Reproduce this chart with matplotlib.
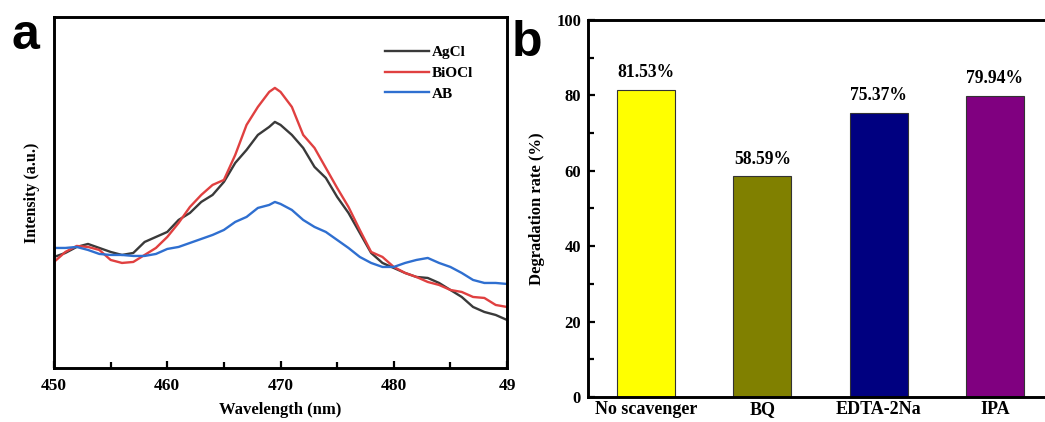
# coding: utf-8
"""Dva panely: PL spektra (a) a míra degradace se scavengery (b)."""

import matplotlib.pyplot as plt
from matplotlib.ticker import MultipleLocator

plt.rcParams["font.family"] = ["Liberation Serif", "DejaVu Serif"]
plt.rcParams["font.weight"] = "bold"
plt.rcParams["axes.labelweight"] = "bold"

# --- data panel a (intenzita v libovolných jednotkách)
wl = [450, 451, 452, 453, 454, 455, 456, 457, 458, 459, 460, 461, 462, 463, 464,
      465, 466, 467, 468, 469, 469.5, 470, 471, 472, 473, 474, 475, 476, 477,
      478, 479, 480, 481, 482, 483, 484, 485, 486, 487, 488, 489, 490]
agcl = [111, 115, 121, 124, 120, 116, 113, 115, 126, 131, 136, 148, 155, 166, 173,
        186, 205, 218, 233, 241, 246, 243, 233, 220, 201, 190, 171, 155, 135,
        115, 105, 100, 95, 91, 90, 85, 78, 71, 61, 56, 53, 48]
biocl = [106, 116, 122, 121, 118, 108, 105, 106, 113, 120, 131, 145, 161, 173, 183,
         188, 213, 243, 261, 276, 280, 276, 261, 233, 220, 200, 180, 161, 138,
         116, 111, 101, 95, 91, 86, 83, 78, 76, 71, 70, 63, 61]
ab = [120, 120, 121, 118, 114, 113, 113, 112, 112, 114, 119, 121, 125, 129, 133,
      138, 146, 151, 160, 163, 166, 164, 158, 148, 141, 136, 128, 120, 111,
      105, 101, 101, 105, 108, 110, 105, 101, 95, 88, 85, 85, 84]
wl_ticks = [450, 460, 470, 480, 490]
wl_labels = ["450", "460", "470", "480", "49"]

# --- data panel b
scavengers = ["No scavenger", "BQ", "EDTA-2Na", "IPA"]
rates = [81.53, 58.59, 75.37, 79.94]
bar_colors = ["#ffff00", "#808000", "#000080", "#800080"]

fig = plt.figure(figsize=(10.45, 4.22), dpi=100)

# ------------------------------------------------ panel a
ax1 = fig.add_axes([0.0517, 0.128, 0.4335, 0.832])
ax1.plot(wl, agcl, color="#3a3a3a", lw=1.7, label="AgCl")
ax1.plot(wl, biocl, color="#e04040", lw=1.7, label="BiOCl")
ax1.plot(wl, ab, color="#2f6fd0", lw=1.7, label="AB")
ax1.set_xlim(450, 490)
ax1.set_ylim(0, 351)
ax1.set_xticks(wl_ticks)
ax1.set_xticklabels(wl_labels)
ax1.xaxis.set_minor_locator(MultipleLocator(5))
ax1.set_yticks([])
ax1.tick_params(axis="x", which="both", direction="in", top=False,
                width=1.6, labelsize=12.5, pad=7)
ax1.tick_params(axis="x", which="major", length=5)
ax1.tick_params(axis="x", which="minor", length=4)
for s in ax1.spines.values():
    s.set_linewidth(2.1)
ax1.set_xlabel("Wavelength (nm)", fontsize=12, labelpad=6)
ax1.set_ylabel("Intensity (a.u.)", fontsize=11.5, labelpad=10)
ax1.legend(loc="upper right", bbox_to_anchor=(0.955, 0.957), frameon=False,
           fontsize=11, handlelength=2.9, handletextpad=0.15, labelspacing=0.45)

# ------------------------------------------------ panel b
ax2 = fig.add_axes([0.5627, 0.059, 0.445, 0.894])
x = range(len(scavengers))
bars = ax2.bar(x, rates, width=0.5, color=bar_colors, edgecolor="#333333",
               linewidth=0.8)
for b, r in zip(bars, rates):
    ax2.annotate("%.2f%%" % r, xy=(b.get_x() + b.get_width() / 2, r),
                 xytext=(0, 6), textcoords="offset points",
                 ha="center", va="bottom", fontsize=12.7)
ax2.set_xlim(-0.5, 3.5)
ax2.set_ylim(0, 100)
ax2.set_xticks(list(x))
ax2.set_xticklabels(scavengers, fontsize=13)
ax2.yaxis.set_major_locator(MultipleLocator(20))
ax2.yaxis.set_minor_locator(MultipleLocator(10))
ax2.tick_params(axis="y", which="both", direction="in", width=1.6,
                labelsize=12, right=False, pad=5)
ax2.tick_params(axis="y", which="major", length=5)
ax2.tick_params(axis="y", which="minor", length=4)
ax2.tick_params(axis="x", length=0, pad=3)
for s in ax2.spines.values():
    s.set_linewidth(2.1)
ax2.set_ylabel("Degradation rate (%)", fontsize=12, labelpad=8)

# písmena panelů
fig.text(0.011, 0.885, "a", family="Liberation Sans", weight="bold", fontsize=36)
fig.text(0.490, 0.868, "b", family="Liberation Sans", weight="bold", fontsize=36)

fig.savefig("out.png", dpi=100)
